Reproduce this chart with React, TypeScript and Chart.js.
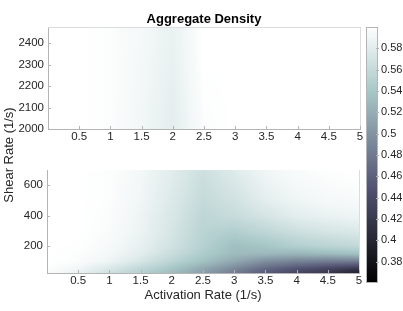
import React, { useEffect, useRef } from "react";
import { Chart, registerables } from "chart.js";

Chart.register(...registerables);

// ---------------- data ----------------
const activationRates = [0, 0.5, 1, 1.5, 2, 2.5, 3, 3.5, 4, 4.5, 5];

const shearRatesTop = [2000, 2100, 2200, 2300, 2400, 2475];
const densityTop = [
  [0.6, 0.6, 0.598, 0.591, 0.581, 0.597, 0.6, 0.6, 0.6, 0.6, 0.6],
  [0.6, 0.6, 0.598, 0.591, 0.582, 0.598, 0.6, 0.6, 0.6, 0.6, 0.6],
  [0.6, 0.6, 0.598, 0.592, 0.583, 0.599, 0.6, 0.6, 0.6, 0.6, 0.6],
  [0.6, 0.6, 0.598, 0.592, 0.584, 0.6, 0.6, 0.6, 0.6, 0.6, 0.6],
  [0.6, 0.6, 0.598, 0.593, 0.585, 0.6, 0.6, 0.6, 0.6, 0.6, 0.6],
  [0.6, 0.6, 0.598, 0.593, 0.585, 0.6, 0.6, 0.6, 0.6, 0.6, 0.6],
];

const shearRatesBottom = [25, 50, 100, 150, 200, 300, 400, 500, 600, 700];
const densityBottom = [
  [0.597, 0.585, 0.567, 0.55, 0.532, 0.508, 0.482, 0.455, 0.435, 0.42, 0.395],
  [0.598, 0.59, 0.573, 0.556, 0.538, 0.515, 0.49, 0.465, 0.447, 0.433, 0.415],
  [0.6, 0.597, 0.588, 0.572, 0.553, 0.535, 0.515, 0.495, 0.485, 0.48, 0.48],
  [0.6, 0.598, 0.592, 0.58, 0.563, 0.545, 0.53, 0.528, 0.525, 0.53, 0.535],
  [0.6, 0.599, 0.594, 0.584, 0.568, 0.55, 0.533, 0.538, 0.548, 0.553, 0.558],
  [0.6, 0.6, 0.596, 0.587, 0.572, 0.553, 0.548, 0.557, 0.566, 0.572, 0.576],
  [0.6, 0.6, 0.597, 0.588, 0.574, 0.556, 0.562, 0.571, 0.581, 0.586, 0.589],
  [0.6, 0.6, 0.598, 0.59, 0.576, 0.56, 0.568, 0.581, 0.589, 0.593, 0.595],
  [0.6, 0.6, 0.598, 0.591, 0.578, 0.563, 0.573, 0.586, 0.593, 0.596, 0.598],
  [0.6, 0.6, 0.598, 0.592, 0.58, 0.566, 0.578, 0.59, 0.596, 0.599, 0.6],
];

const xTickValues = [0.5, 1, 1.5, 2, 2.5, 3, 3.5, 4, 4.5, 5];
const yTicksTop = [2000, 2100, 2200, 2300, 2400];
const yTicksBottom = [200, 400, 600];
const colorbarTicks = [0.38, 0.4, 0.42, 0.44, 0.46, 0.48, 0.5, 0.52, 0.54, 0.56, 0.58];
const colorMin = 0.36;
const colorMax = 0.6;

const titleText = "Aggregate Density";
const xLabel = "Activation Rate (1/s)";
const yLabel = "Shear Rate (1/s)";

// ---------------- helpers ----------------
const FONT = '"Liberation Sans", Arial, Helvetica, sans-serif';
const TEXT = "#262626";
const AXIS = "#b4b4b4";
const BOX = "#dcdcdc";

function clamp01(v: number) {
  return v < 0 ? 0 : v > 1 ? 1 : v;
}

// MATLAB "bone" colormap
function bone(t: number): [number, number, number] {
  t = clamp01(t);
  const hr = Math.min(1, (t * 8) / 3);
  const hg = clamp01((t - 3 / 8) * (8 / 3));
  const hb = clamp01((t - 0.75) * 4);
  return [
    Math.round(((7 * t + hb) / 8) * 255),
    Math.round(((7 * t + hg) / 8) * 255),
    Math.round(((7 * t + hr) / 8) * 255),
  ];
}

function locate(arr: number[], v: number): [number, number] {
  if (v <= arr[0]) return [0, 0];
  const n = arr.length;
  if (v >= arr[n - 1]) return [n - 2, 1];
  for (let i = 0; i < n - 1; i++) {
    if (v <= arr[i + 1]) return [i, (v - arr[i]) / (arr[i + 1] - arr[i])];
  }
  return [n - 2, 1];
}

function bilinear(xs: number[], ys: number[], z: number[][], x: number, y: number) {
  const [i, fx] = locate(xs, x);
  const [j, fy] = locate(ys, y);
  const z00 = z[j][i];
  const z10 = z[j][i + 1];
  const z01 = z[j + 1][i];
  const z11 = z[j + 1][i + 1];
  return (z00 * (1 - fx) + z10 * fx) * (1 - fy) + (z01 * (1 - fx) + z11 * fx) * fy;
}

function heatmapPlugin(xs: number[], ys: number[], z: number[][], showTop: boolean) {
  return {
    id: "heatmap",
    beforeDraw(chart: any) {
      const { ctx, chartArea: a, scales } = chart;
      const xS = scales.x;
      const yS = scales.y;
      const left = Math.round(a.left);
      const top = Math.round(a.top);
      const w = Math.round(a.right) - left;
      const h = Math.round(a.bottom) - top;
      const off = document.createElement("canvas");
      off.width = w;
      off.height = h;
      const octx = off.getContext("2d")!;
      const img = octx.createImageData(w, h);
      for (let j = 0; j < h; j++) {
        const yv = yS.getValueForPixel(top + j + 0.5);
        for (let i = 0; i < w; i++) {
          const xv = xS.getValueForPixel(left + i + 0.5);
          const v = bilinear(xs, ys, z, xv, yv);
          const [r, g, b] = bone((v - colorMin) / (colorMax - colorMin));
          const k = (j * w + i) * 4;
          img.data[k] = r;
          img.data[k + 1] = g;
          img.data[k + 2] = b;
          img.data[k + 3] = 255;
        }
      }
      octx.putImageData(img, 0, 0);
      ctx.save();
      ctx.drawImage(off, left, top);
      ctx.restore();
    },
    afterDraw(chart: any) {
      const { ctx, chartArea: a, scales } = chart;
      ctx.save();
      ctx.lineWidth = 1;
      ctx.strokeStyle = BOX;
      ctx.beginPath();
      if (showTop) {
        ctx.moveTo(a.left, Math.round(a.top) + 0.5);
        ctx.lineTo(a.right + 0.5, Math.round(a.top) + 0.5);
      }
      ctx.moveTo(Math.round(a.right) + 0.5, a.top);
      ctx.lineTo(Math.round(a.right) + 0.5, a.bottom);
      ctx.stroke();
      ctx.strokeStyle = AXIS;
      ctx.beginPath();
      for (const t of scales.x.ticks) {
        const px = Math.round(scales.x.getPixelForValue(t.value)) + 0.5;
        ctx.moveTo(px, a.bottom);
        ctx.lineTo(px, a.bottom - 3);
      }
      for (const t of scales.y.ticks) {
        const py = Math.round(scales.y.getPixelForValue(t.value)) + 0.5;
        ctx.moveTo(a.left, py);
        ctx.lineTo(a.left + 3, py);
      }
      ctx.stroke();
      ctx.restore();
    },
  };
}

const textPlugin = {
  id: "figureText",
  afterDraw(chart: any) {
    const { ctx } = chart;
    ctx.save();
    ctx.fillStyle = "#000";
    ctx.font = `bold 13px ${FONT}`;
    ctx.textAlign = "center";
    ctx.textBaseline = "alphabetic";
    ctx.fillText(titleText, 204, 22.5);
    ctx.fillStyle = TEXT;
    ctx.font = `13px ${FONT}`;
    ctx.translate(12.5, 155);
    ctx.rotate(-Math.PI / 2);
    ctx.fillText(yLabel, 0, 0);
    ctx.restore();
  },
};

function panelConfig(
  ys: number[],
  z: number[][],
  yMin: number,
  yMax: number,
  yTicks: number[],
  padding: any,
  xHeight: number,
  showTop: boolean,
  xTitle: string | null,
  extraPlugins: any[]
): any {
  const points: { x: number; y: number }[] = [];
  ys.forEach((y) => activationRates.forEach((x) => points.push({ x, y })));
  return {
    type: "scatter",
    data: {
      datasets: [{ data: points, pointRadius: 0, pointHoverRadius: 0, showLine: false }],
    },
    options: {
      animation: false,
      responsive: false,
      events: [],
      layout: { padding },
      plugins: { legend: { display: false }, tooltip: { enabled: false }, title: { display: false } },
      scales: {
        x: {
          type: "linear",
          min: 0,
          max: 5,
          grid: { display: false, drawTicks: false },
          border: { display: true, color: AXIS, width: 1 },
          ticks: {
            padding: 1,
            color: TEXT,
            font: { size: 11.5, family: FONT },
            maxRotation: 0,
            autoSkip: false,
            callback: (v: any) => String(v),
          },
          afterBuildTicks: (s: any) => {
            s.ticks = xTickValues.map((v) => ({ value: v }));
          },
          afterFit: (s: any) => {
            s.height = xHeight;
          },
          title: xTitle
            ? {
                display: true,
                text: xTitle,
                color: TEXT,
                font: { size: 13, family: FONT, lineHeight: 1.2 },
                padding: { top: 0, bottom: 8.2 },
              }
            : { display: false },
        },
        y: {
          type: "linear",
          min: yMin,
          max: yMax,
          grid: { display: false, drawTicks: false },
          border: { display: true, color: AXIS, width: 1 },
          ticks: {
            padding: 4,
            color: TEXT,
            font: { size: 11.5, family: FONT },
            autoSkip: false,
            callback: (v: any) => String(v),
          },
          afterBuildTicks: (s: any) => {
            s.ticks = yTicks.map((v) => ({ value: v }));
          },
          afterFit: (s: any) => {
            s.width = 40;
          },
        },
      },
    },
    plugins: [heatmapPlugin(activationRates, ys, z, showTop), ...extraPlugins],
  };
}

const colorbarPlugin = {
  id: "colorbar",
  beforeDraw(chart: any) {
    const { ctx, chartArea: a, scales } = chart;
    const yS = scales.y;
    const top = Math.round(a.top);
    const bottom = Math.round(a.bottom);
    ctx.save();
    for (let py = top; py < bottom; py++) {
      const v = yS.getValueForPixel(py + 0.5);
      const [r, g, b] = bone((v - colorMin) / (colorMax - colorMin));
      ctx.fillStyle = `rgb(${r},${g},${b})`;
      ctx.fillRect(a.left, py, a.right - a.left, 1);
    }
    ctx.restore();
  },
  afterDraw(chart: any) {
    const { ctx, chartArea: a, scales } = chart;
    ctx.save();
    ctx.strokeStyle = AXIS;
    ctx.lineWidth = 1;
    ctx.strokeRect(Math.round(a.left) + 0.5, Math.round(a.top) + 0.5, Math.round(a.right - a.left) - 1, Math.round(a.bottom - a.top) - 1);
    ctx.beginPath();
    for (const t of scales.y.ticks) {
      const py = Math.round(scales.y.getPixelForValue(t.value)) + 0.5;
      ctx.moveTo(a.right - 2, py);
      ctx.lineTo(a.right + 1, py);
    }
    ctx.stroke();
    ctx.restore();
  },
};

function colorbarConfig(): any {
  return {
    type: "scatter",
    data: { datasets: [{ data: [], pointRadius: 0 }] },
    options: {
      animation: false,
      responsive: false,
      events: [],
      layout: { padding: { left: 366, right: 0, top: 27, bottom: 28 } },
      plugins: { legend: { display: false }, tooltip: { enabled: false } },
      scales: {
        x: { type: "linear", display: false, min: 0, max: 1 },
        y: {
          type: "linear",
          position: "right",
          min: colorMin,
          max: colorMax,
          grid: { display: false, drawTicks: false },
          border: { display: false },
          ticks: {
            padding: 3,
            color: TEXT,
            font: { size: 11, family: FONT },
            autoSkip: false,
            callback: (v: any) => String(Number(Number(v).toFixed(2))),
          },
          afterBuildTicks: (s: any) => {
            s.ticks = colorbarTicks.map((v) => ({ value: v }));
          },
          afterFit: (s: any) => {
            s.width = 25;
          },
        },
      },
    },
    plugins: [colorbarPlugin],
  };
}

export default function App() {
  const topRef = useRef<HTMLCanvasElement>(null);
  const botRef = useRef<HTMLCanvasElement>(null);
  const cbRef = useRef<HTMLCanvasElement>(null);

  useEffect(() => {
    const charts = [
      new Chart(
        topRef.current!,
        panelConfig(
          shearRatesTop,
          densityTop,
          2000,
          2475,
          yTicksTop,
          { left: 8, right: 43, top: 27, bottom: 162 },
          20,
          true,
          null,
          [textPlugin]
        )
      ),
      new Chart(
        botRef.current!,
        panelConfig(
          shearRatesBottom,
          densityBottom,
          25,
          700,
          yTicksBottom,
          { left: 7, right: 44, top: 170, bottom: 0 },
          38,
          false,
          xLabel,
          []
        )
      ),
      new Chart(cbRef.current!, colorbarConfig()),
    ];
    return () => charts.forEach((c) => c.destroy());
  }, []);

  const cs: React.CSSProperties = { position: "absolute", left: 0, top: 0 };
  return (
    <div style={{ position: "fixed", left: 0, top: 0, width: 403, height: 311, background: "#fff" }}>
      <canvas ref={topRef} width={403} height={311} style={cs} />
      <canvas ref={botRef} width={403} height={311} style={cs} />
      <canvas ref={cbRef} width={403} height={311} style={cs} />
    </div>
  );
}
